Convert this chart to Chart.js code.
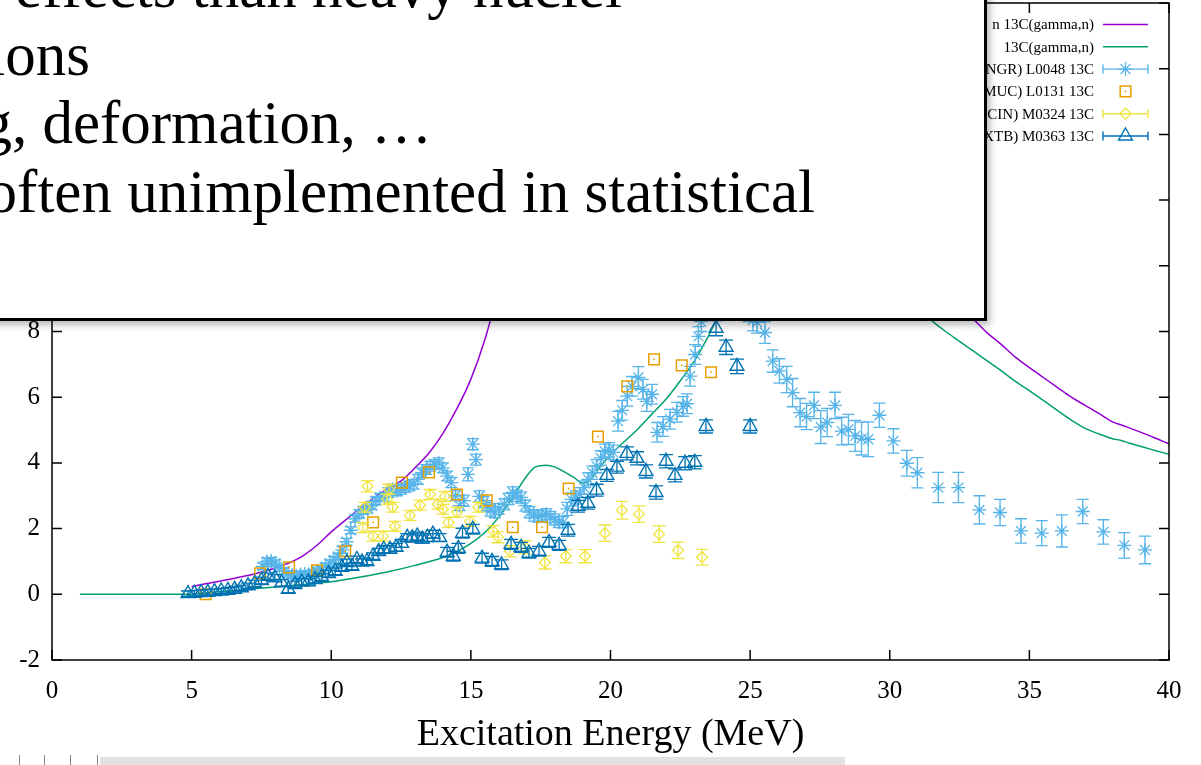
<!DOCTYPE html>
<html>
<head>
<meta charset="utf-8">
<script src="https://cdn.jsdelivr.net/npm/chart.js"></script>
<style>
  html, body { margin: 0; padding: 0; background: #fff; }
  body { width: 1201px; height: 765px; position: relative; overflow: hidden; }
  #plot { position: absolute; left: 0; top: 0; }
  #note {
    position: absolute; left: -20px; top: -20px; width: 1001px; height: 335px;
    border: 3px solid #000; background: #fff; overflow: hidden;
    box-shadow: 3px 4px 7px rgba(0,0,0,0.28);
    font-family: "Liberation Serif", "Times New Roman", serif; font-size: 61px; line-height: 61px; color: #000;
  }
  #note .ln { position: absolute; white-space: nowrap; }
  #strip { position: absolute; left: 100px; top: 757px; width: 745px; height: 8px; background: #e2e2e2; }
  .mark { position: absolute; top: 755px; width: 1px; height: 10px; background: #8a8a8a; }
</style>
</head>
<body>
<canvas id="plot" width="1201" height="765"></canvas>
<div id="note">
  <div class="ln" style="right:362px; top:-27px;">effects than heavy nuclei</div>
  <div class="ln" style="right:894px; top:41px;">ions</div>
  <div class="ln" style="right:552px; top:109px;">g, deformation, …</div>
  <div class="ln" style="right:169px; top:178px;">often unimplemented in statistical</div>
</div>
<div id="strip"></div>
<div class="mark" style="left:19px"></div>
<div class="mark" style="left:44px"></div>
<div class="mark" style="left:70px"></div>
<div class="mark" style="left:97px"></div>
<script>
// Axis ticks
const xTicks = [0, 5, 10, 15, 20, 25, 30, 35, 40];
const yTicks = [-2, 0, 2, 4, 6, 8, 10, 12, 14, 16, 18];

// Legend labels (in plotting order)
const legendLabels = [
  'n 13C(gamma,n)',
  '13C(gamma,n)',
  'NGR) L0048 13C',
  'MUC) L0131 13C',
  'CIN) M0324 13C',
  'XTB) M0363 13C'
];

// Calculation 1 (purple curve)
const calc1E = [5.0,5.5,6.0,6.5,7.0,7.5,8.0,8.5,9.0,9.5,10.0,10.5,11.0,11.5,12.0,12.5,13.0,13.5,14.0,14.5,15.0,15.5,16.0,16.5,17.0,18.0,19.0,20.0,21.0,22.0,23.0,24.0,25.0,26.0,27.0,28.0,29.0,30.0,31.0,32.0,33.0,33.5,34.0,34.5,35.0,35.5,36.0,36.5,37.0,37.5,38.0,38.25,38.6,39.0,39.5,40.0];
const calc1Xs = [0.24,0.32,0.40,0.48,0.57,0.68,0.80,0.96,1.18,1.50,1.90,2.25,2.60,2.92,3.20,3.45,3.85,4.30,4.90,5.65,6.55,7.75,9.3,10.9,12.4,14.8,16.4,17.4,17.8,17.7,17.2,16.5,15.6,14.6,13.6,12.6,11.6,10.7,9.9,9.1,8.37,7.95,7.6,7.22,6.9,6.6,6.3,6.0,5.75,5.5,5.24,5.17,5.06,4.93,4.76,4.58];

// Calculation 2 (green curve)
const calc2E = [1.0,2.0,3.0,4.0,4.9,5.5,6.0,7.0,8.0,9.0,10.0,11.0,12.0,13.0,14.0,14.5,15.0,15.5,16.0,16.5,17.0,17.3,17.7,18.0,18.3,18.7,19.0,19.3,19.6,20.0,20.5,21.0,21.5,22.0,22.5,23.0,23.5,24.0,25.0,26.0,27.0,28.0,29.0,30.0,31.0,31.5,32.0,32.5,33.0,33.5,34.0,34.5,35.0,35.5,36.0,36.5,37.0,37.5,38.0,38.25,38.6,39.0,39.5,40.0];
const calc2Xs = [0,0,0,0,0,0.04,0.08,0.15,0.22,0.30,0.38,0.52,0.68,0.88,1.12,1.30,1.55,1.88,2.35,2.95,3.6,3.87,3.93,3.88,3.75,3.55,3.38,3.5,3.85,4.25,4.65,5.05,5.5,5.95,6.5,7.1,7.85,8.7,9.9,10.7,11.0,10.8,10.2,9.5,8.7,8.33,8.0,7.7,7.4,7.1,6.8,6.48,6.2,5.9,5.6,5.3,5.05,4.88,4.73,4.69,4.6,4.5,4.38,4.26];

// L0048 (asterisks)
const l0048E = [
  7.55,7.7,7.85,8.0,8.15,8.3,8.45,8.6,8.75,8.9,9.05,9.2,9.35,9.5,9.65,9.8,9.95,
  10.1,10.25,10.4,10.55,10.7,10.85,11.0,11.15,11.3,11.45,11.6,11.75,11.9,
  12.05,12.2,12.35,12.5,12.65,12.8,12.95,13.1,13.25,13.4,13.55,13.7,13.85,14.0,
  14.15,14.3,14.45,14.6,14.75,14.9,15.07,15.18,15.3,15.45,15.57,15.7,15.86,16.0,
  16.2,16.35,16.5,16.65,16.8,16.95,17.1,17.25,17.4,17.55,17.7,17.85,18.0,18.15,18.3,
  18.45,18.6,18.75,18.9,19.05,19.2,19.35,19.5,19.65,19.8,19.95,20.1,
  20.27,20.42,20.6,20.77,21.0,21.16,21.3,21.49,21.67,21.88,22.13,22.38,22.6,22.74,22.85,23.03,23.15,23.25,
  23.4,23.6,23.8,24.0,24.2,24.4,24.6,24.8,24.95,25.1,25.25,
  25.53,25.81,26.05,26.31,26.52,26.79,27.02,27.29,27.53,27.76,28.04,28.28,28.52,28.76,28.99,29.23,29.63,30.13,30.61,30.99,31.74,32.46,33.21,33.95,34.70,35.44,36.16,36.91,37.65,38.40,39.14
];
const l0048Xs = [
  0.85,1.0,1.02,0.95,0.8,0.7,0.62,0.58,0.55,0.6,0.62,0.6,0.65,0.7,0.75,0.85,0.95,
  1.05,1.15,1.35,1.6,1.95,2.3,2.45,2.55,2.6,2.7,2.85,2.95,2.95,
  3.1,3.2,3.15,3.2,3.25,3.3,3.35,3.5,3.7,3.8,3.9,3.95,4.0,3.85,
  3.6,3.4,3.0,2.7,2.85,3.65,4.57,4.1,2.98,2.8,2.68,2.55,2.5,2.6,
  2.74,2.9,3.1,3.0,2.95,2.7,2.5,2.4,2.37,2.4,2.44,2.35,2.28,2.2,2.19,
  2.6,2.89,2.95,3.05,3.25,3.5,3.7,3.9,4.15,4.35,4.4,4.32,
  5.27,5.6,6.03,6.33,6.6,6.24,5.87,6.09,4.93,5.11,5.33,5.54,5.72,5.8,6.64,7.3,7.85,8.3,
  8.7,9.1,9.4,9.6,9.8,9.9,9.7,9.2,8.6,8.35,8.28,
  7.97,7.10,6.80,6.54,6.14,5.53,5.41,5.75,5.09,5.23,5.75,4.97,5.02,4.82,4.74,4.72,5.45,4.67,3.99,3.70,3.25,3.25,2.57,2.49,1.93,1.86,1.93,2.52,1.90,1.49,1.35
];
const l0048Err = [
  0.1,0.1,0.1,0.1,0.1,0.1,0.1,0.1,0.1,0.1,0.1,0.1,0.1,0.1,0.1,0.1,0.1,
  0.1,0.1,0.1,0.1,0.1,0.1,0.12,0.12,0.12,0.12,0.12,0.12,0.12,
  0.15,0.15,0.15,0.15,0.15,0.15,0.15,0.15,0.15,0.15,0.15,0.15,0.15,0.15,
  0.15,0.15,0.15,0.15,0.17,0.2,0.17,0.17,0.17,0.17,0.17,0.17,0.17,0.17,
  0.17,0.17,0.17,0.17,0.17,0.17,0.17,0.17,0.17,0.17,0.17,0.17,0.17,0.17,0.17,
  0.2,0.2,0.2,0.2,0.2,0.2,0.2,0.2,0.22,0.22,0.22,0.22,
  0.3,0.3,0.3,0.3,0.33,0.3,0.3,0.3,0.3,0.3,0.3,0.3,0.3,0.3,0.3,0.3,0.3,0.3,
  0.3,0.3,0.3,0.3,0.3,0.3,0.3,0.3,0.3,0.33,0.33,
  0.33,0.34,0.37,0.4,0.43,0.43,0.4,0.4,0.5,0.43,0.4,0.42,0.46,0.47,0.5,0.53,0.37,0.37,0.39,0.46,0.46,0.46,0.43,0.4,0.37,0.38,0.49,0.37,0.37,0.39,0.42
];

// L0131 (squares)
const l0131E = [5.5,7.45,8.49,9.49,10.5,11.5,12.53,13.5,14.5,15.57,16.5,17.55,18.5,19.55,20.6,21.56,22.55,23.6];
const l0131Xs = [0.0,0.64,0.82,0.73,1.31,2.19,3.4,3.71,3.04,2.86,2.04,2.04,3.22,4.8,6.33,7.15,6.97,6.76];

// M0324 (diamonds)
const m0324E = [11.14,11.2,11.3,11.5,11.85,12.0,12.07,12.2,12.28,12.82,13.18,13.54,13.82,14.0,14.07,14.2,14.5,14.97,15.27,15.8,15.97,16.4,16.94,17.65,18.4,19.09,19.8,20.41,21.02,21.74,22.42,23.28];
const m0324Xs = [2.03,2.65,3.29,1.77,1.77,2.89,3.2,2.65,2.07,2.4,2.71,3.04,2.74,2.59,2.98,2.19,2.5,2.22,2.65,1.92,1.74,1.31,1.43,0.97,1.16,1.16,1.86,2.56,2.44,1.83,1.34,1.13];
const m0324Err = [0.15,0.15,0.17,0.15,0.15,0.15,0.15,0.15,0.15,0.15,0.15,0.15,0.15,0.15,0.15,0.15,0.15,0.15,0.15,0.17,0.17,0.17,0.2,0.2,0.2,0.2,0.25,0.27,0.25,0.25,0.25,0.24];

// M0363 (triangles)
const m0363E = [
  4.87,5.1,5.34,5.58,5.82,6.06,6.3,6.54,6.78,7.02,7.26,7.5,7.74,7.98,8.22,8.46,
  8.7,8.94,9.18,9.42,9.66,9.9,10.14,10.38,10.56,10.74,10.92,11.1,11.28,11.5,11.7,11.88,
  12.1,12.32,12.52,12.72,12.9,13.08,13.26,13.44,13.64,13.88,14.15,14.37,14.55,14.7,
  15.07,15.4,15.76,16.1,16.44,16.8,17.08,17.44,17.8,18.16,
  18.48,18.84,19.19,19.5,19.87,20.23,20.59,20.95,21.27,21.63,21.99,22.31,22.67,23.02,23.42,23.78,24.14,24.53,25.0
];
const m0363Xs = [
  0.02,0.03,0.05,0.06,0.08,0.1,0.12,0.15,0.2,0.26,0.33,0.42,0.55,0.5,0.35,0.15,
  0.3,0.37,0.38,0.45,0.52,0.63,0.7,0.82,0.97,0.85,1.06,0.98,1.0,1.16,1.3,1.37,
  1.37,1.43,1.55,1.73,1.72,1.77,1.68,1.73,1.83,1.73,1.28,1.16,1.4,1.86,
  1.98,1.1,1.0,0.9,1.52,1.43,1.25,1.31,1.58,1.49,
  1.95,2.68,2.77,3.17,3.62,3.87,4.29,4.14,3.74,3.1,4.05,3.62,3.99,4.02,5.11,8.1,7.52,6.94,5.11
];
const m0363Err = [
  0.08,0.08,0.08,0.08,0.08,0.08,0.08,0.08,0.08,0.08,0.1,0.1,0.1,0.1,0.1,0.1,
  0.1,0.1,0.1,0.1,0.1,0.1,0.1,0.1,0.1,0.1,0.1,0.1,0.1,0.1,0.1,0.1,
  0.12,0.12,0.12,0.12,0.12,0.12,0.12,0.12,0.12,0.12,0.15,0.15,0.15,0.15,
  0.15,0.15,0.15,0.15,0.15,0.15,0.15,0.15,0.15,0.15,
  0.18,0.18,0.18,0.18,0.18,0.18,0.2,0.2,0.2,0.2,0.2,0.2,0.2,0.2,0.2,0.23,0.22,0.22,0.2
];

const COLORS = ['#9400D3', '#009E73', '#56B4E9', '#E69F00', '#F0E442', '#0072B2'];
const SERIF = '"Liberation Serif", "Times New Roman", serif';

const pts = (xs, ys) => xs.map((x, i) => ({ x: x, y: ys[i] }));

// Vertical error bars with caps, plus the centre dot of the square markers
const errorBars = {
  id: 'errorBars',
  afterDatasetDraw(chart, args) {
    const ds = chart.data.datasets[args.index];
    if (!ds.errors && !ds.centerDot) return;
    const ctx = chart.ctx, ys = chart.scales.y;
    ctx.save();
    Chart.helpers.clipArea(ctx, chart.chartArea);
    ctx.strokeStyle = ds.borderColor;
    ctx.fillStyle = ds.borderColor;
    ctx.lineWidth = 1.3;
    args.meta.data.forEach((el, i) => {
      const cx = el.x;
      if (ds.errors) {
        const v = ds.data[i].y, e = ds.errors[i];
        const t = ys.getPixelForValue(v + e), b = ys.getPixelForValue(v - e);
        const c = ds.capHalf;
        ctx.beginPath();
        ctx.moveTo(cx, t); ctx.lineTo(cx, b);
        ctx.moveTo(cx - c, t); ctx.lineTo(cx + c, t);
        ctx.moveTo(cx - c, b); ctx.lineTo(cx + c, b);
        ctx.stroke();
      }
      if (ds.centerDot) ctx.fillRect(cx - 0.8, el.y - 0.8, 1.6, 1.6);
    });
    Chart.helpers.unclipArea(ctx);
    ctx.restore();
  }
};

// Border box with inward tick marks on all four sides
const frame = {
  id: 'frame',
  afterDraw(chart) {
    const { ctx, chartArea: a } = chart;
    const xs = chart.scales.x, ys = chart.scales.y;
    const len = 10;
    ctx.save();
    ctx.strokeStyle = '#000';
    ctx.lineWidth = 1.5;
    ctx.strokeRect(a.left, a.top, a.right - a.left, a.bottom - a.top);
    ctx.beginPath();
    xTicks.forEach(v => {
      const p = xs.getPixelForValue(v);
      ctx.moveTo(p, a.bottom); ctx.lineTo(p, a.bottom - len);
      ctx.moveTo(p, a.top); ctx.lineTo(p, a.top + len);
    });
    yTicks.forEach(v => {
      const p = ys.getPixelForValue(v);
      ctx.moveTo(a.left, p); ctx.lineTo(a.left + len, p);
      ctx.moveTo(a.right, p); ctx.lineTo(a.right - len, p);
    });
    ctx.stroke();
    ctx.restore();
  }
};

// Key in the upper right: text right-aligned, sample on the right
const key = {
  id: 'key',
  afterDraw(chart) {
    const ctx = chart.ctx;
    const textRight = 1094, x0 = 1103, x1 = 1148, xm = (x0 + x1) / 2;
    ctx.save();
    ctx.font = '15px ' + SERIF;
    ctx.textAlign = 'right';
    ctx.textBaseline = 'middle';
    chart.data.datasets.forEach((ds, i) => {
      const y = 24.5 + i * 22.3;
      ctx.fillStyle = '#000';
      ctx.fillText(ds.label, textRight, y + 1);
      ctx.strokeStyle = ds.borderColor;
      ctx.fillStyle = ds.borderColor;
      ctx.lineWidth = 1.4;
      if (ds.showLine) {
        ctx.beginPath(); ctx.moveTo(x0, y); ctx.lineTo(x1, y); ctx.stroke();
        return;
      }
      if (ds.errors) {
        ctx.beginPath();
        ctx.moveTo(x0, y); ctx.lineTo(x1, y);
        ctx.moveTo(x0, y - 4.5); ctx.lineTo(x0, y + 4.5);
        ctx.moveTo(x1, y - 4.5); ctx.lineTo(x1, y + 4.5);
        ctx.stroke();
      }
      ctx.fillStyle = 'rgba(0,0,0,0)';
      ctx.lineWidth = ds.pointBorderWidth;
      Chart.helpers.drawPoint(ctx, { pointStyle: ds.pointStyle, radius: ds.pointRadius, rotation: 0, borderWidth: ds.pointBorderWidth }, xm, y);
      if (ds.centerDot) { ctx.fillStyle = ds.borderColor; ctx.fillRect(xm - 0.8, y - 0.8, 1.6, 1.6); }
    });
    ctx.restore();
  }
};

const tickFont = { family: SERIF, size: 25 };
const noPad = s => { s.paddingTop = 0; s.paddingBottom = 0; s.paddingLeft = 0; s.paddingRight = 0; };

new Chart(document.getElementById('plot'), {
  type: 'scatter',
  data: {
    datasets: [
      { label: legendLabels[0], data: pts(calc1E, calc1Xs), showLine: true, borderColor: COLORS[0], borderWidth: 1.5, pointRadius: 0, cubicInterpolationMode: 'monotone', order: 6 },
      { label: legendLabels[1], data: pts(calc2E, calc2Xs), showLine: true, borderColor: COLORS[1], borderWidth: 1.5, pointRadius: 0, cubicInterpolationMode: 'monotone', order: 5 },
      { label: legendLabels[2], data: pts(l0048E, l0048Xs), errors: l0048Err, capHalf: 6, showLine: false, pointStyle: 'star', pointRadius: 7, pointBorderWidth: 1.3, borderColor: COLORS[2], pointBorderColor: COLORS[2], backgroundColor: 'rgba(0,0,0,0)', pointBackgroundColor: 'rgba(0,0,0,0)', order: 4 },
      { label: legendLabels[3], data: pts(l0131E, l0131Xs), centerDot: true, showLine: false, pointStyle: 'rect', pointRadius: 7.5, pointBorderWidth: 1.5, borderColor: COLORS[3], pointBorderColor: COLORS[3], backgroundColor: 'rgba(0,0,0,0)', pointBackgroundColor: 'rgba(0,0,0,0)', order: 3 },
      { label: legendLabels[4], data: pts(m0324E, m0324Xs), errors: m0324Err, capHalf: 6.5, showLine: false, pointStyle: 'rectRot', pointRadius: 5.5, pointBorderWidth: 1.3, borderColor: COLORS[4], pointBorderColor: COLORS[4], backgroundColor: 'rgba(0,0,0,0)', pointBackgroundColor: 'rgba(0,0,0,0)', order: 2 },
      { label: legendLabels[5], data: pts(m0363E, m0363Xs), errors: m0363Err, capHalf: 7, showLine: false, pointStyle: 'triangle', pointRadius: 8, pointBorderWidth: 1.4, borderColor: COLORS[5], pointBorderColor: COLORS[5], backgroundColor: 'rgba(0,0,0,0)', pointBackgroundColor: 'rgba(0,0,0,0)', order: 1 }
    ]
  },
  options: {
    responsive: false,
    animation: false,
    events: [],
    layout: { autoPadding: false, padding: { top: 3, right: 32, left: 0, bottom: 0 } },
    plugins: { legend: { display: false }, tooltip: { enabled: false } },
    scales: {
      x: {
        type: 'linear', min: 0, max: 40,
        afterBuildTicks: s => { s.ticks = xTicks.map(v => ({ value: v })); },
        afterFit: s => { s.height = 105; noPad(s); },
        grid: { display: false, drawTicks: false },
        border: { display: false },
        ticks: { color: '#000', font: tickFont, padding: 16, maxRotation: 0 },
        title: { display: true, text: 'Excitation Energy (MeV)', color: '#000', font: { family: SERIF, size: 38 }, padding: { top: 0, bottom: 7 } }
      },
      y: {
        type: 'linear', min: -2, max: 18,
        afterBuildTicks: s => { s.ticks = yTicks.map(v => ({ value: v })); },
        afterFit: s => { s.width = 52; noPad(s); },
        grid: { display: false, drawTicks: false },
        border: { display: false },
        ticks: { color: '#000', font: tickFont, padding: 12 }
      }
    }
  },
  plugins: [errorBars, frame, key]
});
</script>
</body>
</html>
